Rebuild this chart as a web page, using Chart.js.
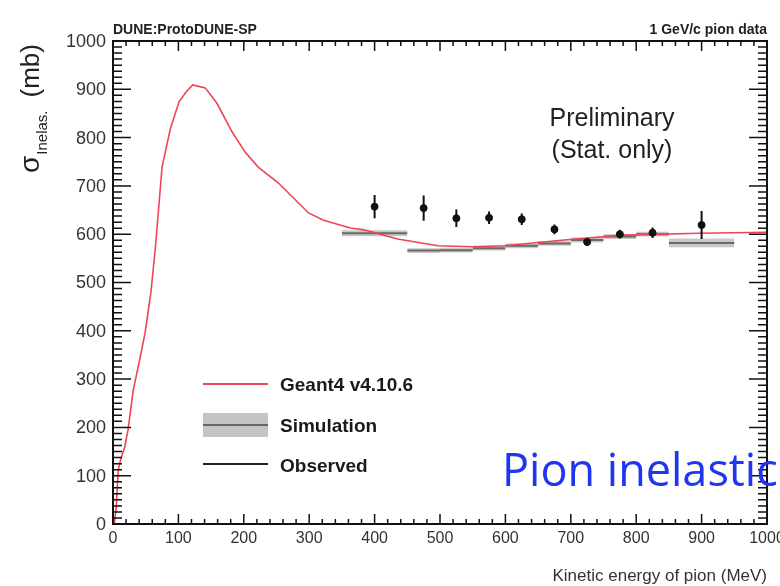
<!DOCTYPE html>
<html>
<head>
<meta charset="utf-8">
<script src="https://cdn.jsdelivr.net/npm/chart.js@4.4.1/dist/chart.umd.min.js"></script>
<style>
  body { margin: 0; background: #fff; }
  canvas { display: block; }
</style>
</head>
<body>
<canvas id="c" width="780" height="586"></canvas>
<script>
// Geant4 curve
const g4Energy = [2, 5, 8, 12, 18, 23, 31, 40, 49, 58, 65, 75, 88, 101, 112, 122, 141, 159, 182, 202, 222, 253, 299, 322, 363, 384, 435, 497, 550, 598, 690, 778, 896, 1000]
const g4Xsec = [0, 35, 112, 135, 160, 195, 277, 335, 395, 480, 575, 739, 820, 874, 895, 909, 903, 871, 812, 770, 739, 706, 644, 629, 613, 609, 590, 576, 574, 576, 588, 598, 602, 604]

// observed data
const dataEnergy = [400, 475, 525, 575, 625, 675, 725, 775, 825, 900]
const dataXsec = [657, 654, 633, 634, 631, 610, 584, 600, 603, 619]
const dataErr = [24, 26, 18, 13, 12, 10, 8, 9, 11, 29]

// simulation bins
const simLo = [350, 450, 500, 550, 600, 650, 700, 750, 800, 850]
const simHi = [450, 500, 550, 600, 650, 700, 750, 800, 850, 950]
const simXsec = [602, 566, 567, 571, 576, 581, 588, 595, 600, 582]
const simErr = [6, 5, 5, 5, 5, 5, 5, 5, 5, 9]

const xTicks = [0, 100, 200, 300, 400, 500, 600, 700, 800, 900, 1000]
const yTicks = [0, 100, 200, 300, 400, 500, 600, 700, 800, 900, 1000]

function stepData(off) {
    let pts = []
    simLo.forEach((lo, i) => {
        let v = simXsec[i] + off * simErr[i]
        pts.push({x: lo, y: v}, {x: simHi[i], y: v}, {x: simHi[i], y: null})
    })
    return pts
}

let g4Pts = g4Energy.map((e, i) => ({x: e, y: g4Xsec[i]}))
let dataPts = dataEnergy.map((e, i) => ({x: e, y: dataXsec[i]}))
let errPts = []
dataEnergy.forEach((e, i) => {
    errPts.push({x: e, y: dataXsec[i] - dataErr[i]}, {x: e, y: dataXsec[i] + dataErr[i]}, {x: e, y: null})
})

const rootAxes = {
    id: 'rootAxes',
    afterDatasetsDraw(chart) {
        const ctx = chart.ctx
        const a = chart.chartArea
        const xs = chart.scales.x, ys = chart.scales.y
        ctx.save()
        ctx.strokeStyle = '#111'
        ctx.lineWidth = 1.5
        // x ticks, bottom and top
        for (let v = 0; v <= 1000; v += 20) {
            let px = xs.getPixelForValue(v)
            let len = v % 100 === 0 ? 10 : 5
            ctx.beginPath()
            ctx.moveTo(px, a.bottom); ctx.lineTo(px, a.bottom - len)
            ctx.moveTo(px, a.top); ctx.lineTo(px, a.top + len)
            ctx.stroke()
        }
        // y ticks, left and right
        for (let v = 0; v <= 1000; v += 12.5) {
            let py = ys.getPixelForValue(v)
            let len = v % 100 === 0 ? 18 : 9
            ctx.beginPath()
            ctx.moveTo(a.left, py); ctx.lineTo(a.left + len, py)
            ctx.moveTo(a.right, py); ctx.lineTo(a.right - len, py)
            ctx.stroke()
        }
        ctx.lineWidth = 2
        ctx.strokeRect(a.left, a.top, a.right - a.left, a.bottom - a.top)

        // tick labels
        ctx.fillStyle = '#333'
        ctx.font = '18px "Liberation Sans", Arial, sans-serif'
        ctx.textAlign = 'right'
        ctx.textBaseline = 'middle'
        yTicks.forEach(v => ctx.fillText(String(v), a.left - 7, ys.getPixelForValue(v) + 1))
        ctx.font = '16px "Liberation Sans", Arial, sans-serif'
        ctx.textAlign = 'center'
        ctx.textBaseline = 'top'
        xTicks.forEach(v => ctx.fillText(String(v), xs.getPixelForValue(v), a.bottom + 7))
        ctx.restore()
    },
    afterDraw(chart) {
        const ctx = chart.ctx
        const a = chart.chartArea
        ctx.save()
        ctx.fillStyle = '#222'
        ctx.textBaseline = 'alphabetic'
        ctx.font = 'bold 14px "Liberation Sans", Arial, sans-serif'
        ctx.textAlign = 'left'
        ctx.fillText('DUNE:ProtoDUNE-SP', a.left, 34)
        ctx.textAlign = 'right'
        ctx.fillText('1 GeV/c pion data', a.right, 34)

        // x title
        ctx.font = '17px "Liberation Sans", Arial, sans-serif'
        ctx.fillStyle = '#333'
        ctx.fillText('Kinetic energy of pion (MeV)', a.right, 581)

        // preliminary
        ctx.fillStyle = '#222'
        ctx.textAlign = 'center'
        ctx.font = '25px "Liberation Sans", Arial, sans-serif'
        ctx.fillText('Preliminary', 612, 126)
        ctx.fillText('(Stat. only)', 612, 158)

        // y title
        ctx.save()
        ctx.translate(39, 173)
        ctx.rotate(-Math.PI / 2)
        ctx.textAlign = 'left'
        ctx.font = '28px "Liberation Sans", Arial, sans-serif'
        ctx.fillText('σ', 0, 0)
        let w = ctx.measureText('σ').width
        ctx.font = '15px "Liberation Sans", Arial, sans-serif'
        ctx.fillText('Inelas.', w + 1, 8)
        w += ctx.measureText('Inelas.').width + 14
        ctx.font = '26px "Liberation Sans", Arial, sans-serif'
        ctx.fillText('(mb)', w, 0)
        ctx.restore()

        // legend
        ctx.lineWidth = 2
        ctx.strokeStyle = '#ee4455'
        ctx.beginPath(); ctx.moveTo(203, 384); ctx.lineTo(268, 384); ctx.stroke()
        ctx.fillStyle = '#c4c4c4'
        ctx.fillRect(203, 413, 65, 24)
        ctx.strokeStyle = '#666'
        ctx.beginPath(); ctx.moveTo(203, 425); ctx.lineTo(268, 425); ctx.stroke()
        ctx.strokeStyle = '#222'
        ctx.beginPath(); ctx.moveTo(203, 464); ctx.lineTo(268, 464); ctx.stroke()
        ctx.fillStyle = '#1a1a1a'
        ctx.textAlign = 'left'
        ctx.font = 'bold 19px "Liberation Sans", Arial, sans-serif'
        ctx.fillText('Geant4 v4.10.6', 280, 391)
        ctx.fillText('Simulation', 280, 432)
        ctx.fillText('Observed', 280, 472)

        // big label
        ctx.fillStyle = '#1f35f0'
        ctx.font = '45px "Open Sans", "Noto Sans", sans-serif'
        ctx.fillText('Pion inelastic', 502, 486)
        ctx.restore()
    }
}

new Chart(document.getElementById('c'), {
    type: 'line',
    data: {
        datasets: [
            {
                label: 'sim up',
                data: stepData(1),
                borderWidth: 0,
                borderColor: 'rgba(0,0,0,0)',
                pointRadius: 0,
                fill: false,
                order: 5
            },
            {
                label: 'sim down',
                data: stepData(-1),
                borderWidth: 0,
                borderColor: 'rgba(0,0,0,0)',
                backgroundColor: '#c8c8c8',
                pointRadius: 0,
                fill: '-1',
                order: 4
            },
            {
                label: 'Simulation',
                data: stepData(0),
                borderWidth: 2,
                borderColor: '#6a6a6a',
                pointRadius: 0,
                order: 3
            },
            {
                label: 'Geant4 v4.10.6',
                data: g4Pts,
                borderWidth: 1.6,
                borderColor: '#ee4455',
                pointRadius: 0,
                tension: 0,
                order: 2
            },
            {
                label: 'err',
                data: errPts,
                borderWidth: 2,
                borderColor: '#111',
                pointRadius: 0,
                order: 1
            },
            {
                label: 'Observed',
                data: dataPts,
                showLine: false,
                pointRadius: 3.5,
                pointBackgroundColor: '#111',
                pointBorderColor: '#111',
                order: 0
            }
        ]
    },
    options: {
        responsive: false,
        animation: false,
        layout: { padding: { left: 113, right: 13, top: 41, bottom: 62 } },
        plugins: { legend: { display: false }, tooltip: { enabled: false } },
        scales: {
            x: { type: 'linear', min: 0, max: 1000, display: false },
            y: { type: 'linear', min: 0, max: 1000, display: false }
        }
    },
    plugins: [rootAxes]
})
</script>
</body>
</html>
